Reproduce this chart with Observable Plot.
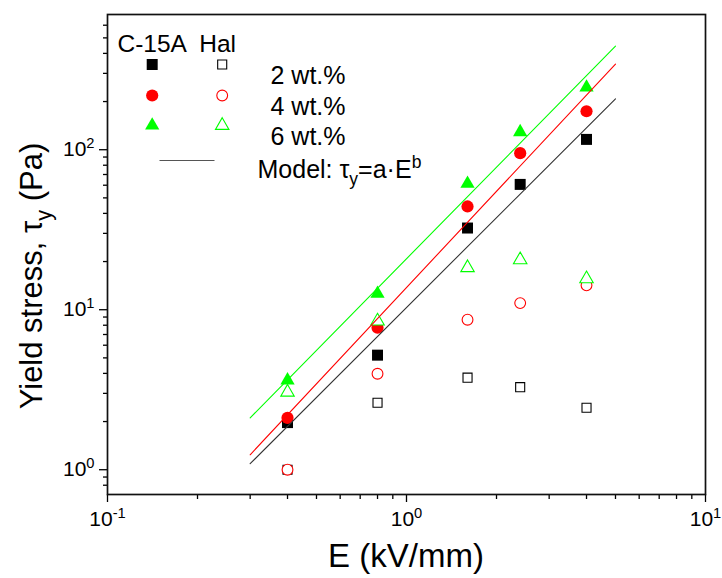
<!DOCTYPE html>
<html><head><meta charset="utf-8">
<script src="https://cdn.jsdelivr.net/npm/d3@7"></script>
<script src="https://cdn.jsdelivr.net/npm/@observablehq/plot@0.6"></script>
<style>
body{margin:0;background:#fff;}
#chart{width:722px;height:578px;}
</style>
</head><body><div id="chart"></div>
<script>
// ---- data ----
const E = [0.4, 0.8, 1.6, 2.4, 4];
const c15a2 = [1.97, 5.2, 32.4, 60.7, 116];
const c15a4 = [2.11, 7.72, 44.2, 95.2, 174];
const c15a6 = [3.62, 12.6, 61.3, 128.9, 245];
const hal2 = [1.0, 2.62, 3.76, 3.28, 2.44];
const hal4 = [1.0, 3.98, 8.66, 11.0, 14.2];
const hal6 = [3.05, 8.49, 18.3, 20.5, 15.6];
const modelE = [0.3, 5];
const model2 = [1.09, 208];
const model4 = [1.24, 343];
const model6 = [2.11, 444];
const seriesNames = ["2 wt.%", "4 wt.%", "6 wt.%"];
const groupNames = ["C-15A", "Hal"];
const xMajor = [0.1, 1, 10];
const xMinor = [0.2, 0.3, 0.4, 0.5, 0.6, 0.7, 0.8, 0.9, 2, 3, 4, 5, 6, 7, 8, 9];
const yMajor = [1, 10, 100];
const yMinor = [0.8, 0.9, 2, 3, 4, 5, 6, 7, 8, 9, 20, 30, 40, 50, 60, 70, 80, 90, 200, 300, 400, 500, 600];

// ---- styles ----
const colors = ["#000000", "#ff0000", "#00ff00"];
const symbols = ["square", "circle", "triangle"];
const rFilled = [6.2, 6.1, 5.3];
const rOpen = [5.1, 5.4, 5.0];

const toRows = (xs, ys, name) => xs.map((x, i) => ({E: x, tau: ys[i], series: name}));
const filled = [c15a2, c15a4, c15a6].map((ys, i) => toRows(E, ys, seriesNames[i]));
const open = [hal2, hal4, hal6].map((ys, i) => toRows(E, ys, seriesNames[i]));
const models = [model2, model4, model6].map((ys, i) => toRows(modelE, ys, seriesNames[i]));

const supFmt = d => `10^{${Math.round(Math.log10(d))}}`;
const lineSym = {draw(ctx) { ctx.moveTo(-27.5, 0); ctx.lineTo(27.5, 0); }};

const marks = [];
// filled markers (C-15A)
filled.forEach((rows, i) => marks.push(Plot.dot(rows, {x: "E", y: "tau", symbol: symbols[i], r: rFilled[i], fill: colors[i], stroke: "none"})));
// open markers (Hal)
open.forEach((rows, i) => marks.push(Plot.dot(rows, {x: "E", y: "tau", symbol: symbols[i], r: rOpen[i], fill: "white", stroke: colors[i], strokeWidth: 1.1})));
// model lines
models.forEach((rows, i) => marks.push(Plot.line(rows, {x: "E", y: "tau", stroke: i === 0 ? "#333" : colors[i], strokeWidth: 1.1})));

// axes
marks.push(
  Plot.axisX(xMajor, {tickSize: 8, tickPadding: 9, tickFormat: supFmt, fontSize: 21, strokeWidth: 1.3, label: null}),
  Plot.axisX(xMinor, {tickSize: 5, tickFormat: () => "", strokeWidth: 1.3, label: null}),
  Plot.axisY(yMajor, {tickSize: 8, tickPadding: 5, tickFormat: supFmt, fontSize: 21, strokeWidth: 1.3, label: null}),
  Plot.axisY(yMinor, {tickSize: 4, tickFormat: () => "", strokeWidth: 1.3, label: null}),
  Plot.frame({stroke: "#111", strokeWidth: 1.7})
);

// legend (pixel offsets from the top-left of the frame)
const legRowsDy = [50, 81, 111];
marks.push(Plot.text([groupNames.join("  ")], {frameAnchor: "top-left", dx: 10, dy: 20, text: d => d, textAnchor: "start", fontSize: 24.5, fill: "#000"}));
seriesNames.forEach((name, i) => {
  marks.push(Plot.dot([name], {frameAnchor: "top-left", dx: 44.7, dy: legRowsDy[i], symbol: symbols[i], r: rFilled[i], fill: colors[i], stroke: "none"}));
  marks.push(Plot.dot([name], {frameAnchor: "top-left", dx: 114.7, dy: legRowsDy[i], symbol: symbols[i], r: rOpen[i], fill: "white", stroke: colors[i], strokeWidth: 1.1}));
  marks.push(Plot.text([name], {frameAnchor: "top-left", dx: 163, dy: legRowsDy[i] + 2, text: d => d, textAnchor: "start", fontSize: 25, fill: "#000"}));
});
marks.push(Plot.dot(["Model"], {frameAnchor: "top-left", dx: 79.5, dy: 146, symbol: lineSym, r: 1, stroke: "#555", strokeWidth: 1.2, fill: "none"}));
marks.push(Plot.text(["Model: τ_{y}=a·E^{b}"], {frameAnchor: "top-left", dx: 150, dy: 145.5, text: d => d, textAnchor: "start", fontSize: 25, fill: "#000"}));

const chart = Plot.plot({
  width: 722, height: 578,
  marginLeft: 107, marginRight: 17, marginTop: 14, marginBottom: 84,
  x: {type: "log", domain: [0.1, 10]},
  y: {type: "log", domain: [0.7, 700]},
  style: {fontFamily: "'Liberation Sans', Arial, sans-serif", fontSize: "20px", background: "white", color: "#000"},
  marks
});
document.getElementById("chart").appendChild(chart);

const svg = d3.select(chart);
// axis titles
svg.append("text").attr("x", 406).attr("y", 567).attr("text-anchor", "middle")
  .attr("font-size", 33).attr("fill", "#000").text("E (kV/mm)");
svg.append("text").attr("transform", "translate(42,276) rotate(-90)").attr("text-anchor", "middle")
  .attr("font-size", 31).attr("fill", "#000").text("Yield stress, τ_{y} (Pa)");

// rich text: ^{..} superscript, _{..} subscript
svg.selectAll("text").each(function() {
  const s = this.textContent;
  if (!/[\^_]\{/.test(s)) return;
  const fs = parseFloat(getComputedStyle(this).fontSize);
  const parts = [];
  const re = /([\^_])\{([^}]*)\}/g;
  let last = 0, m;
  while ((m = re.exec(s))) {
    if (m.index > last) parts.push({t: s.slice(last, m.index), k: ""});
    parts.push({t: m[2], k: m[1]});
    last = re.lastIndex;
  }
  if (last < s.length) parts.push({t: s.slice(last), k: ""});
  const el = d3.select(this);
  el.selectAll("*").remove();
  el.text("");
  let shift = 0;
  parts.forEach(p => {
    const ts = el.append("tspan").text(p.t);
    let target = p.k === "^" ? -0.38 * fs : p.k === "_" ? 0.3 * fs : 0;
    const dy = target - shift;
    if (dy) ts.attr("dy", dy + "px");
    shift = target;
    if (p.k) ts.attr("font-size", (0.7 * fs) + "px");
  });
});
</script>
</body></html>
